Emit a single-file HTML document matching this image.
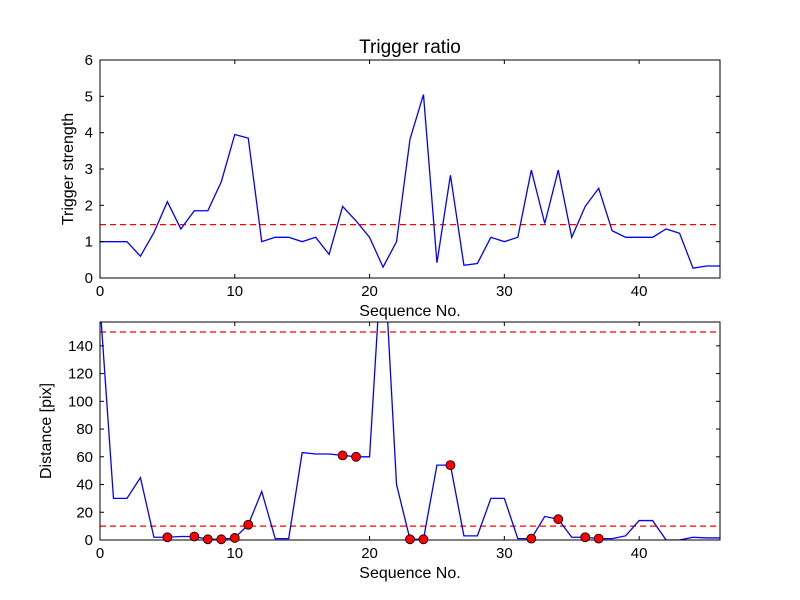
<!DOCTYPE html>
<html><head><meta charset="utf-8"><style>
body{margin:0;background:#fff;}
svg{display:block;font-family:"Liberation Sans","DejaVu Sans",sans-serif;}
</style></head><body>
<svg id="c" width="800" height="600" xmlns="http://www.w3.org/2000/svg"></svg>
<script>
const seq=[...Array(47).keys()];
const ratio=[1,1,1,0.6,1.25,2.1,1.35,1.85,1.85,2.65,3.95,3.85,1.0,1.12,1.12,1.0,1.12,0.65,1.97,1.57,1.12,0.3,1.0,3.82,5.05,0.42,2.83,0.35,0.4,1.12,1.0,1.12,2.97,1.5,2.97,1.12,1.97,2.47,1.3,1.12,1.12,1.12,1.35,1.23,0.27,0.33,0.33];
const ratioThreshold=1.47;
const dist=[170,30,30,45,2,2,2.5,2.5,0.5,0.5,1.5,11,35,1,1,63,62,62,61,60,60,220,40,0.5,0.5,54,54,3,3,30,30,1,1,17,15,2,2,1,1,3,14,14,0,0,2,1.5,1.5];
const markIdx=[5,7,8,9,10,11,18,19,23,24,26,32,34,36,37];
const distThresholds=[150,10];
const xTicks=[0,10,20,30,40];
const yTicksTop=[0,1,2,3,4,5,6];
const yTicksBot=[0,20,40,60,80,100,120,140];

const NS="http://www.w3.org/2000/svg";
const svg=document.getElementById('c');
function mk(t,a,p){const e=document.createElementNS(NS,t);for(const k in a)e.setAttribute(k,a[k]);(p||svg).appendChild(e);return e;}
const L=100,R=720,xMax=46;
const sx=v=>L+(R-L)*v/xMax;

function panel(top,bot,yMax,ys,name,ylabel,yTicks){
  const sy=v=>bot-(bot-top)*v/yMax;
  const g=mk('g',{});
  
  
  const cp=mk('clipPath',{id:'cp'+name},g);
  mk('rect',{x:L,y:top,width:R-L,height:bot-top},cp);
  const plot=mk('g',{'clip-path':'url(#cp'+name+')'},g);
  return {g,plot,sy,top,bot};
}
function axes(p,yMax,yTicks,name,ylabel,title){
  const {g,sy,top,bot}=p;
  xTicks.forEach(t=>{const x=sx(t);
    mk('line',{x1:x,x2:x,y1:bot,y2:bot-4,stroke:'#000'},g);
    mk('line',{x1:x,x2:x,y1:top,y2:top+4,stroke:'#000'},g);
    const tx=mk('text',{x:x,y:bot+18,'text-anchor':'middle','font-size':15},g);tx.textContent=t;
    
    
  });
  yTicks.forEach(t=>{const y=sy(t);
    mk('line',{x1:L,x2:L+4,y1:y,y2:y,stroke:'#000'},g);
    mk('line',{x1:R,x2:R-4,y1:y,y2:y,stroke:'#000'},g);
    const tx=mk('text',{x:L-7,y:y+5,'text-anchor':'end','font-size':15},g);tx.textContent=t;
    
    
  });
  const fr=mk('rect',{x:L,y:top,width:R-L,height:bot-top,fill:'none',stroke:'#000','stroke-width':1},g);
  
  
  const xl=mk('text',{x:410,y:bot+38,'text-anchor':'middle','font-size':16},g);xl.textContent='Sequence No.';
  
  
  const yl=mk('text',{x:0,y:0,'text-anchor':'middle','font-size':16,transform:`translate(${name==='top-panel'?73:51},${(top+bot)/2}) rotate(-90)`},g);yl.textContent=ylabel;
  
  
  if(title){const tt=mk('text',{x:410,y:top-7,'text-anchor':'middle','font-size':19},g);tt.textContent=title;
    
    }
}

// top panel
const p1=panel(60,278,6,ratio,'top-panel');
const th1=mk('line',{x1:L,x2:R,y1:p1.sy(ratioThreshold),y2:p1.sy(ratioThreshold),stroke:'#f00','stroke-width':1.3,'stroke-dasharray':'6,4'},p1.plot);


const l1=mk('polyline',{points:seq.map((s,i)=>sx(s)+','+p1.sy(ratio[i])).join(' '),fill:'none',stroke:'#00f','stroke-width':1.3},p1.plot);


axes(p1,6,yTicksTop,'top-panel','Trigger strength','Trigger ratio');

// bottom panel
const yMaxB=157.2;
const p2=panel(322,540,yMaxB,dist,'bottom-panel');
distThresholds.forEach(v=>{const l=mk('line',{x1:L,x2:R,y1:p2.sy(v),y2:p2.sy(v),stroke:'#f00','stroke-width':1.3,'stroke-dasharray':'6,4'},p2.plot);
  
  });
const l2=mk('polyline',{points:seq.map((s,i)=>sx(s)+','+p2.sy(dist[i])).join(' '),fill:'none',stroke:'#00f','stroke-width':1.3},p2.plot);


const mg=mk('g',{});
markIdx.forEach(i=>{const c=mk('circle',{cx:sx(seq[i]),cy:p2.sy(dist[i]),r:4.5,fill:'#f00',stroke:'#000','stroke-width':0.8},mg);
  
  });
axes(p2,yMaxB,yTicksBot,'bottom-panel','Distance [pix]',null);
</script>
</body></html>
